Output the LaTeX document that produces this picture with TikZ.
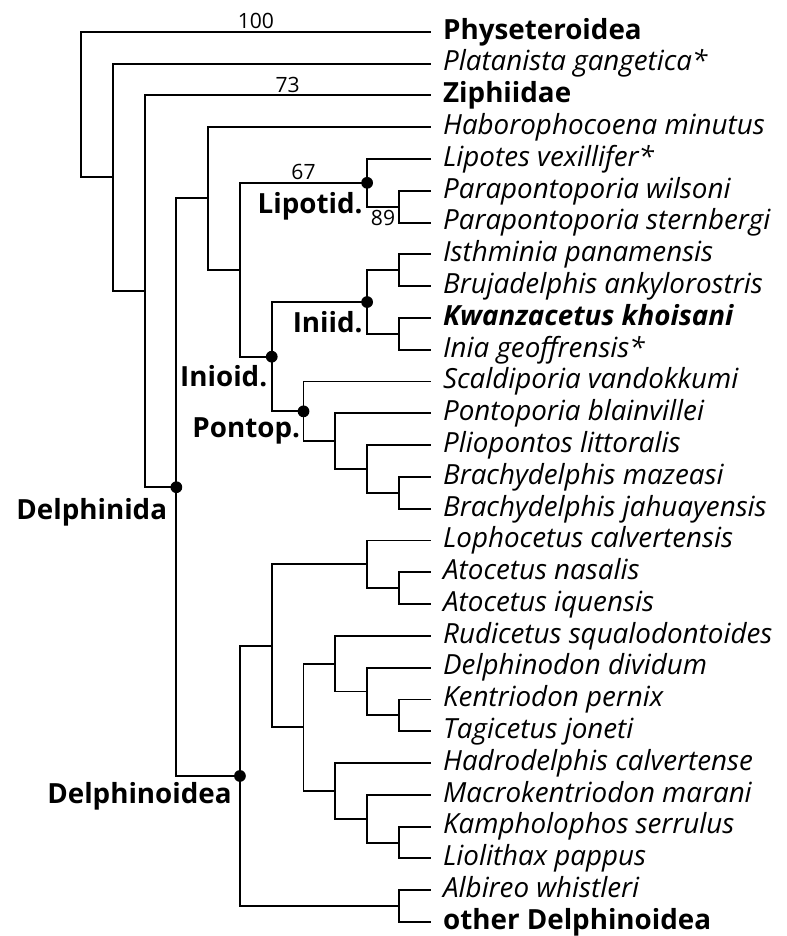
\documentclass[tikz,border=0pt]{standalone}
\usepackage{fontspec}
\setmainfont{Open Sans}
\usetikzlibrary{calc}
\newcommand\treefont{\fontsize{15.8}{19}\selectfont}
\newcommand\bootfont{\fontsize{12}{14}\selectfont}
\tikzset{
	branch/.style={draw=black,line width=1.1pt},
	taxon/.style={anchor=base west,inner sep=0pt,font=\treefont\itshape},
	group/.style={anchor=base west,inner sep=0pt,font=\treefont\bfseries},
	newtaxon/.style={anchor=base west,inner sep=0pt,font=\treefont\bfseries\itshape},
	clade/.style={anchor=base east,inner sep=0pt,font=\treefont\bfseries},
	support/.style={inner sep=1.6pt,font=\bootfont},
}

\begin{document}
\begin{tikzpicture}[x=0.636cm,y=-0.636cm]
	\useasboundingbox (-2.547,0) rectangle (22.2,29.44);
	% tips
	\foreach \i/\name/\sty in {1/Physeteroidea/group,2/Platanista gangetica*/taxon,
		3/Ziphiidae/group,4/Haborophocoena minutus/taxon,5/Lipotes vexillifer*/taxon,
		6/Parapontoporia wilsoni/taxon,7/Parapontoporia sternbergi/taxon,
		8/Isthminia panamensis/taxon,9/Brujadelphis ankylorostris/taxon,
		10/Kwanzacetus khoisani/newtaxon,11/Inia geoffrensis*/taxon,
		12/Scaldiporia vandokkumi/taxon,13/Pontoporia blainvillei/taxon,
		14/Pliopontos littoralis/taxon,15/Brachydelphis mazeasi/taxon,
		16/Brachydelphis jahuayensis/taxon,17/Lophocetus calvertensis/taxon,
		18/Atocetus nasalis/taxon,19/Atocetus iquensis/taxon,
		20/Rudicetus squalodontoides/taxon,21/Delphinodon dividum/taxon,
		22/Kentriodon pernix/taxon,23/Tagicetus joneti/taxon,
		24/Hadrodelphis calvertense/taxon,25/Macrokentriodon marani/taxon,
		26/Kampholophos serrulus/taxon,27/Liolithax pappus/taxon,
		28/Albireo whistleri/taxon,29/other Delphinoidea/group}
	{
		\coordinate (l\i) at (11,\i);
		\node[\sty] (t\i) at ([shift={(0.38,0.23)}]l\i) {\name};
	}
	% internal nodes
	\coordinate (r0) at (0,3.29);
	\coordinate (n1) at (1,5.581);
	\coordinate (n2) at (2,9.162);
	\coordinate (dA) at (3,15.324);
	\coordinate (n4) at (4,6.242);
	\coordinate (n5) at (5,8.484);
	\coordinate (lp) at (9,5.75);
	\coordinate (n67) at (10,6.5);
	\coordinate (io) at (6,11.219);
	\coordinate (ii) at (9,9.5);
	\coordinate (n89) at (10,8.5);
	\coordinate (n1011) at (10,10.5);
	\coordinate (pt) at (7,12.938);
	\coordinate (n13) at (8,13.875);
	\coordinate (n14) at (9,14.75);
	\coordinate (n1516) at (10,15.5);
	\coordinate (dO) at (5,24.406);
	\coordinate (nA) at (6,20.313);
	\coordinate (nL) at (9,17.75);
	\coordinate (n1819) at (10,18.5);
	\coordinate (nE) at (7,22.875);
	\coordinate (nC) at (8,20.875);
	\coordinate (nC2) at (9,21.75);
	\coordinate (n2223) at (10,22.5);
	\coordinate (nD) at (8,24.875);
	\coordinate (nD2) at (9,25.75);
	\coordinate (n2627) at (10,26.5);
	\coordinate (nB) at (10,28.5);
	% branches
	\foreach \p/\c in {r0/l1,r0/n1,n1/l2,n1/n2,n2/l3,n2/dA,dA/n4,dA/dO,
		n4/l4,n4/n5,n5/lp,n5/io,lp/l5,lp/n67,n67/l6,n67/l7,
		io/ii,io/pt,ii/n89,ii/n1011,n89/l8,n89/l9,n1011/l10,n1011/l11,
		pt/l12,pt/n13,n13/l13,n13/n14,n14/l14,n14/n1516,n1516/l15,n1516/l16,
		dO/nA,dO/nB,nA/nL,nA/nE,nL/l17,nL/n1819,n1819/l18,n1819/l19,
		nE/nC,nE/nD,nC/l20,nC/nC2,nC2/l21,nC2/n2223,n2223/l22,n2223/l23,
		nD/l24,nD/nD2,nD2/l25,nD2/n2627,n2627/l26,n2627/l27,nB/l28,nB/l29}
	\draw[branch] (\p) |- (\c);
	% named clades
	\foreach \c in {lp,ii,io,pt,dA,dO}
	\fill (\c) circle[radius=0.185];
	\node[clade] (cDa) at ([shift={(-0.28,1.01)}]dA) {Delphinida};
	\node[clade] (cDo) at ([shift={(-0.25,0.88)}]dO) {Delphinoidea};
	\node[clade] (cIo) at ([shift={(-0.13,0.95)}]io) {Inioid.};
	\node[clade] (cPt) at ([shift={(-0.1,0.81)}]pt) {Pontop.};
	\node[clade] (cIi) at ([shift={(-0.13,0.97)}]ii) {Iniid.};
	\node[clade] (cLp) at ([shift={(-0.13,0.95)}]lp) {Lipotid.};
	% support
	\node[support,above] (s100) at ($(r0|-l1)!.5!(l1)$) {100};
	\node[support,above] (s73) at ($(n2|-l3)!.5!(l3)$) {73};
	\node[support,above] (s67) at ($(n5|-lp)!.5!(lp)$) {67};
	\node[support,below] (s89) at ($(lp|-n67)!.5!(n67)$) {89};
\end{tikzpicture}
\end{document}
